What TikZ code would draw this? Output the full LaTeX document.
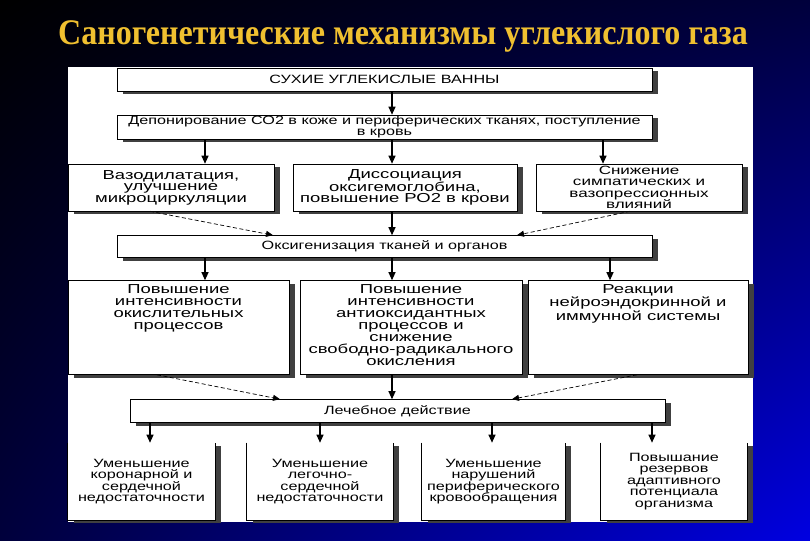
\documentclass[tikz,border=0pt]{standalone}
\usepackage{fontspec}
\setmainfont{Liberation Serif}
\newfontfamily\titlefont{Liberation Serif}[FakeStretch=0.89]
\newfontfamily\boxfont{Liberation Sans}[FakeStretch=1.35]
\newfontfamily\bigboxfont{Liberation Sans}[FakeStretch=1.42]
\usetikzlibrary{arrows.meta,shadows,shadings}
\definecolor{gold}{RGB}{240,192,48}
\definecolor{deepblue}{RGB}{0,0,225}
\definecolor{navy}{RGB}{0,0,60}
\newcommand{\topbox}[1]{\parbox[c][86pt][t]{214pt}{\centering #1}}

\begin{document}
\begin{tikzpicture}[x=1pt,y=-1pt,
        box/.style={draw=black,line width=0.6pt,fill=white,inner sep=3pt,align=center,
            font=\boxfont\fontsize{12}{11.5}\selectfont,
            drop shadow={shadow xshift=6pt,shadow yshift=-3pt,fill=black!75,opacity=1}},
        wide/.style={box,minimum width=535pt,minimum height=23pt},
        mid/.style={box,minimum height=47pt,font=\bigboxfont\fontsize{13}{11.5}\selectfont},
        tall/.style={box,minimum height=94pt,font=\bigboxfont\fontsize{13}{12}\selectfont},
        open/.style={box,draw=none,minimum width=146pt,minimum height=77pt},
        arr/.style={-{Triangle[length=8pt,width=7pt]},line width=1.1pt},
        dasharrow/.style={-{Triangle[length=7pt,width=6pt]},line width=0.7pt,dash pattern=on 4pt off 2.5pt}]
    % background and sheet
    \shade[upper left=black,upper right=navy,lower left=navy,lower right=deepblue]
        (0,0) rectangle (810,540);
    \fill[white] (68,67) rectangle (753,522);
    \node (title) [font=\titlefont\bfseries\fontsize{36}{40}\selectfont,text=gold] at (403,36)
        {Саногенетические механизмы углекислого газа};
    % columns for arrows
    \coordinate (c0) at (392,0);
    \coordinate (c1) at (205,0);
    \coordinate (c2) at (603,0);
    \coordinate (c3) at (610,0);
    % boxes
    \node (bath) [wide] at (384.5,79.5) {СУХИЕ УГЛЕКИСЛЫЕ ВАННЫ};
    \node (depot) [wide,inner sep=1pt,minimum height=24pt,
        font=\boxfont\fontsize{12}{10.5}\selectfont] at (384.5,127)
        {Депонирование СО2 в коже и периферических тканях, поступление\\в кровь};
    \node (vaso) [mid,minimum width=206pt] at (171,187.5)
        {Вазодилатация,\\улучшение\\микроциркуляции};
    \node (diss) [mid,minimum width=224pt] at (405,187.5)
        {Диссоциация\\оксигемоглобина,\\повышение РО2 в крови};
    \node (symp) [mid,minimum width=206pt,inner sep=0.5pt,
        font=\bigboxfont\fontsize{12}{11.5}\selectfont] at (639,187.5)
        {Снижение\\симпатических и\\вазопрессионных\\влияний};
    \node (oxy) [wide,minimum height=22pt] at (384.5,246.5)
        {Оксигенизация тканей и органов};
    \node (ox) [tall,minimum width=221pt] at (178.5,327.5)
        {\topbox{Повышение\\интенсивности\\окислительных\\процессов}};
    \node (anti) [tall,minimum width=222pt] at (411,327.5)
        {\topbox{Повышение\\интенсивности\\антиоксидантных\\процессов и\\снижение\\свободно-радикального\\окисления}};
    \node (neuro) [tall,minimum width=220pt] at (638,327.5)
        {\topbox{Реакции\\нейроэндокринной и\\иммунной системы}};
    \node (cure) [wide] at (397.5,411) {Лечебное действие};
    \node (cor) [open,minimum width=147pt] at (141.5,481.5)
        {Уменьшение\\коронарной и\\сердечной\\недостаточности};
    \node (lung) [open] at (320,481.5)
        {Уменьшение\\легочно-\\сердечной\\недостаточности};
    \node (peri) [open,minimum width=143pt] at (493.5,481.5)
        {Уменьшение\\нарушений\\периферического\\кровообращения};
    \node (adapt) [open] at (674,481.5)
        {Повышание\\резервов\\адаптивного\\потенциала\\организма};
    \foreach \n in {cor,lung,peri,adapt}
        \draw[line width=0.6pt] (\n.north west) -- (\n.south west) -- (\n.south east) -- (\n.north east);
    % connectors
    \draw[arr] (bath.south -| c0) -- (depot.north -| c0);
    \draw[arr] (depot.south -| c1) -- (vaso.north -| c1);
    \draw[arr] (depot.south -| c0) -- (diss.north -| c0);
    \draw[arr] (depot.south -| c2) -- (symp.north -| c2);
    \draw[dasharrow] ([xshift=-21pt]vaso.south) -- ([xshift=-111.5pt]oxy.north);
    \draw[arr] (diss.south -| c0) -- (oxy.north -| c0);
    \draw[dasharrow] ([xshift=-9pt]symp.south) -- ([xshift=132.5pt]oxy.north);
    \draw[arr] (oxy.south -| c1) -- (ox.north -| c1);
    \draw[arr] (oxy.south -| c0) -- (anti.north -| c0);
    \draw[arr] (oxy.south -| c3) -- (neuro.north -| c3);
    \draw[dasharrow] ([xshift=-21.5pt]ox.south) -- ([xshift=-117.5pt]cure.north);
    \draw[arr] (anti.south -| c0) -- (cure.north -| c0);
    \draw[dasharrow] ([xshift=-1pt]neuro.south) -- ([xshift=114.5pt]cure.north);
    \draw[arr] ([xshift=-247.5pt]cure.south) -- ([xshift=8.5pt]cor.north);
    \draw[arr] ([xshift=-77.5pt]cure.south) -- (lung.north);
    \draw[arr] ([xshift=94.5pt]cure.south) -- ([xshift=-1.5pt]peri.north);
    \draw[arr] ([xshift=254.5pt]cure.south) -- ([xshift=-22pt]adapt.north);
\end{tikzpicture}
\end{document}
